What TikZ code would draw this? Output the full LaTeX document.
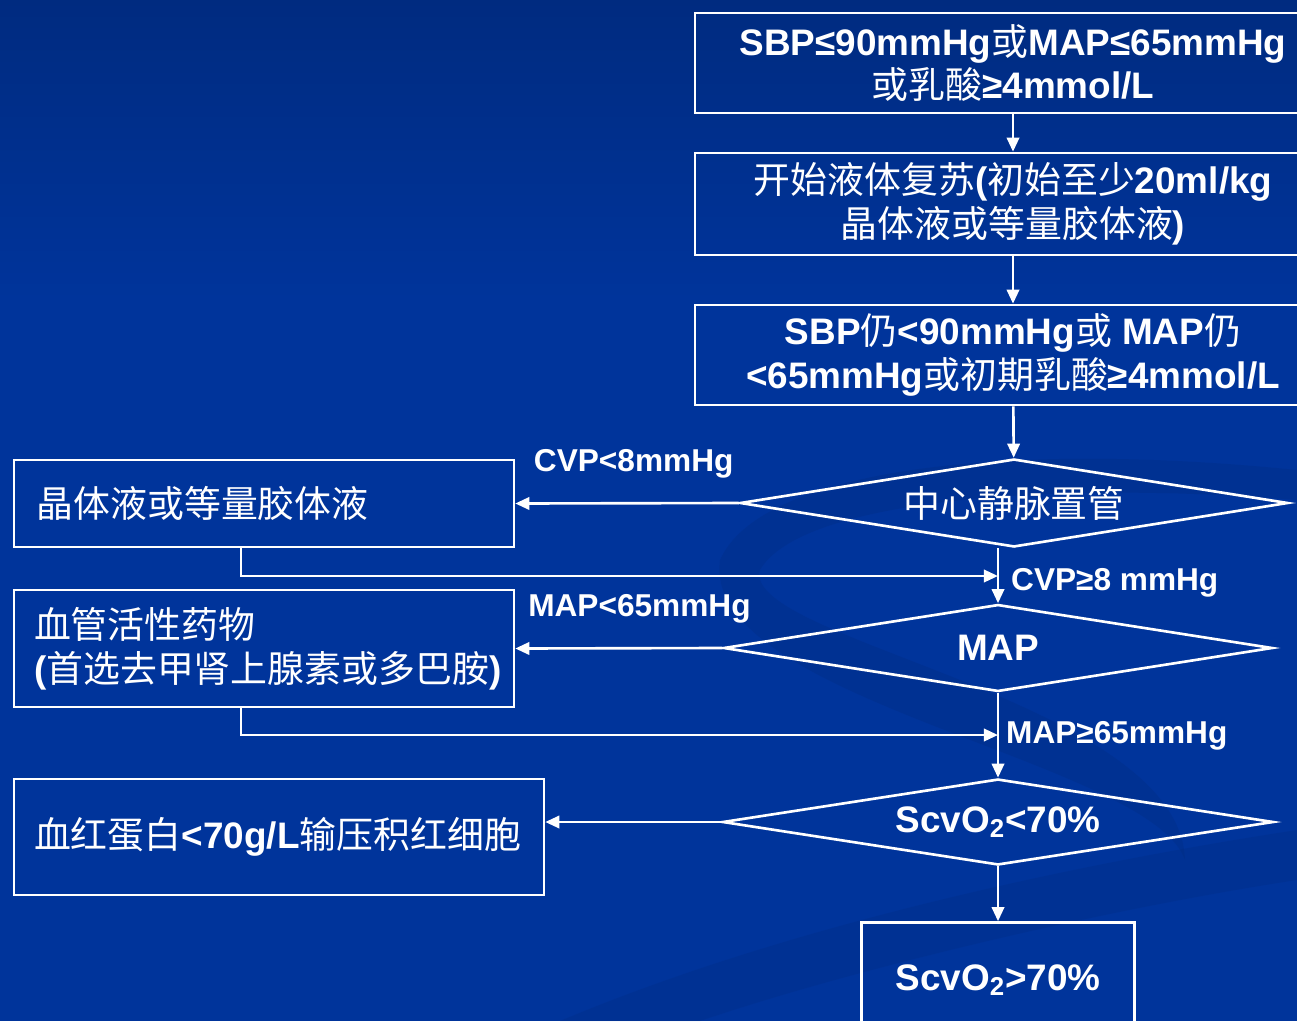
\documentclass[tikz,border=0pt]{standalone}
\usepackage{fontspec}
\setmainfont{Liberation Sans}
\newfontfamily\zhfont{Noto Sans CJK SC}
\usepackage{xcolor}
\usepackage{tikz}
\usetikzlibrary{shapes.geometric,arrows.meta}
\definecolor{bg}{HTML}{00349B}
\definecolor{bgtop}{HTML}{002B80}
\definecolor{swirl}{HTML}{002A7A}
\definecolor{ink}{HTML}{FFFFFF}
\newcommand{\zh}[1]{{\zhfont\mdseries #1}}
\tikzset{
  stepbox/.style={draw=ink, line width=1.5pt, text=ink, inner sep=0pt, align=center,
    font=\fontsize{21}{25}\selectfont\bfseries},
  sidebox/.style={stepbox, align=left},
  decide/.style={diamond, draw=ink, line width=1.5pt, text=ink, inner sep=0pt,
    shape aspect=6, font=\fontsize{21}{25}\selectfont\bfseries},
  flow/.style={draw=ink, line width=1.5pt, -{Triangle[length=8pt,width=7pt]}},
  edgelab/.style={text=ink, font=\fontsize{18}{20}\selectfont\bfseries}
}

\begin{document}
\begin{tikzpicture}[x=0.02cm, y=-0.02cm]
  \useasboundingbox (0,0) rectangle (1297,1021);
  \clip (0,0) rectangle (1297,1021);
  \fill[bg] (0,0) rectangle (1297,1021);
  \shade[top color=bgtop, bottom color=bg] (0,0) rectangle (1297,300);
  % faint swirl of the slide background
  \fill[swirl, opacity=0.25] (720,560) .. controls (760,470) and (1000,440) .. (1297,470)
    -- (1297,500) .. controls (1050,480) and (800,500) .. (760,570)
    .. controls (740,640) and (1180,700) .. (1185,860)
    .. controls (1150,760) and (700,700) .. (720,560);
  \fill[swirl, opacity=0.22] (560,1021) .. controls (800,920) and (1100,860) .. (1297,830)
    -- (1297,880) .. controls (1100,910) and (850,970) .. (700,1021) -- cycle;

  % main column
  \node[stepbox, minimum width=12.72cm, minimum height=2cm] (shock) at (1013,63)
    {SBP≤90mmHg\zh{或}MAP≤65mmHg\\\zh{或乳酸}≥4mmol/L};
  \node[stepbox, minimum width=12.72cm, minimum height=2.04cm] (fluid) at (1013,204)
    {\zh{开始液体复苏}(\zh{初始至少}20ml/kg\\\zh{晶体液或等量胶体液})};
  \node[stepbox, minimum width=12.72cm, minimum height=2cm] (persist) at (1013,355)
    {SBP\zh{仍}<90mmHg\zh{或} MAP\zh{仍}\\<65mmHg\zh{或初期乳酸}≥4mmol/L};
  \node[decide, minimum width=10.96cm, minimum height=1.76cm] (cvc) at (1014,503)
    {\zh{中心静脉置管}};
  \node[decide, minimum width=10.98cm, minimum height=1.74cm] (map) at (998,648) {MAP};
  \node[decide, minimum width=11.02cm, minimum height=1.72cm] (scvo) at (998,822)
    {ScvO\textsubscript{2}<70\%};
  \node[stepbox, minimum width=5.46cm, minimum height=2.3cm] (target) at (998,980)
    {ScvO\textsubscript{2}>70\%};

  % left column
  \node[sidebox, minimum width=10cm, minimum height=1.74cm, text width=9.1cm] (crystal) at (264,503.5)
    {\zh{晶体液或等量胶体液}};
  \node[sidebox, minimum width=10cm, minimum height=2.34cm, text width=9.2cm] (vaso) at (264,648.5)
    {\zh{血管活性药物}\\(\zh{首选去甲肾上腺素或多巴胺})};
  \node[sidebox, minimum width=10.6cm, minimum height=2.32cm, text width=9.8cm] (rbc) at (279,837)
    {\zh{血红蛋白}<70g/L\zh{输压积红细胞}};

  \coordinate (cvpok) at (998,576);
  \coordinate (mapok) at (998,735);

  \draw[flow] (shock) -- (fluid);
  \draw[flow] (fluid) -- (persist);
  \draw[flow] (persist) -- (cvc);
  \draw[flow] (cvc.south -| map.north) -- (map.north);
  \draw[flow] (map) -- (scvo);
  \draw[flow] (scvo) -- (target);

  \draw[flow] (cvc.west) -- (crystal.east)
    node[edgelab, pos=0.47, yshift=0.78cm] {CVP<8mmHg};
  \draw[flow] ([xshift=-0.46cm]crystal.south) |- (cvpok)
    node[edgelab, anchor=west, xshift=0.12cm, yshift=-0.14cm] {CVP≥8 mmHg};
  \draw[flow] (map.west) -- (vaso.east)
    node[edgelab, pos=0.40, yshift=0.78cm] {MAP<65mmHg};
  \draw[flow] ([xshift=-0.46cm]vaso.south) |- (mapok)
    node[edgelab, anchor=west, xshift=0.02cm, yshift=-0.02cm] {MAP≥65mmHg};
  \draw[flow] (scvo.west) -- (scvo.west -| rbc.east);
\end{tikzpicture}
\end{document}
